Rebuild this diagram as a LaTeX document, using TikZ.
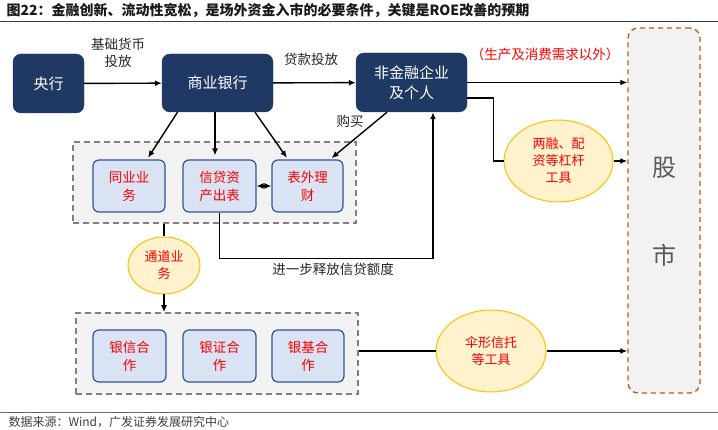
\documentclass[tikz,border=0pt]{standalone}
\usepackage{fontspec}
\setmainfont{Noto Sans CJK SC}
\usepackage{tikz}
\usetikzlibrary{arrows.meta,shapes.geometric}

\definecolor{navy}{RGB}{31,56,100}
\definecolor{paleblue}{RGB}{218,227,243}
\definecolor{edgeblue}{RGB}{47,85,151}
\definecolor{paleyellow}{RGB}{255,242,204}
\definecolor{gold}{RGB}{255,192,0}
\definecolor{panelgray}{RGB}{242,242,242}
\definecolor{rust}{RGB}{197,90,17}

\begin{document}
\begin{tikzpicture}[x=1pt,y=-1pt,
    navybox/.style={draw=navy,fill=navy,rounded corners=8pt,text=white,align=center,
      font=\fontsize{15}{20}\selectfont},
    bluebox/.style={draw=edgeblue,fill=paleblue,line width=1.2pt,rounded corners=6pt,text=red,
      align=center,minimum width=72pt,minimum height=52pt,font=\fontsize{13.5}{18}\selectfont},
    tool/.style={ellipse,draw=gold,fill=paleyellow,line width=1pt,text=red,align=center,
      inner sep=0pt,font=\fontsize{13}{17}\selectfont},
    panel/.style={draw=gray,fill=panelgray,line width=1.6pt,dash pattern=on 6pt off 4pt},
    note/.style={text=black!85,align=center,font=\fontsize{13.5}{17}\selectfont},
    flow/.style={line width=1.4pt,-{Latex[length=7pt,width=6pt]}}]
  \useasboundingbox (0,0) rectangle (718,430);
  % title and source
  \node[anchor=west,text=black!90,font=\fontsize{14}{15}\selectfont\bfseries] (title) at (3,11)
    {图22：金融创新、流动性宽松，是场外资金入市的必要条件，关键是ROE改善的预期};
  \draw[black!75,line width=0.8pt] (0,21) -- (718,21);
  \draw[black!60,line width=0.8pt] (0,412) -- (718,412);
  \node[anchor=west,text=black!75,font=\fontsize{12}{13}\selectfont] (source) at (5,422)
    {数据来源：Wind，广发证券发展研究中心};
  % stock market
  \node[draw=rust,fill=panelgray,line width=1.4pt,dash pattern=on 5pt off 4pt,rounded corners=10pt,
    minimum width=72pt,minimum height=365pt] (stock) at (664,210.5) {};
  \node[text=black!65,font=\fontsize{24}{24}\selectfont] (gu) at (664,168) {股};
  \node[text=black!65,font=\fontsize{24}{24}\selectfont] (shi) at (664,255) {市};
  % panels
  \node[panel,minimum width=283pt,minimum height=81pt] (upper) at (214.5,182.5) {};
  \node[panel,minimum width=282pt,minimum height=81pt] (lower) at (217,353.5) {};
  % main boxes
  \node[navybox,minimum width=71pt,minimum height=59pt] (cbank) at (48.5,83.5) {央行};
  \node[navybox,minimum width=111pt,minimum height=58pt] (bank) at (217.5,83) {商业银行};
  \node[navybox,minimum width=111pt,minimum height=59pt] (firm) at (411.5,82.5) {非金融企业\\及个人};
  % bank products
  \node[bluebox] (interbank) at (129,186) {同业业\\务};
  \node[bluebox,minimum width=73pt] (credit) at (219.5,186) {信贷资\\产出表};
  \node[bluebox,minimum width=71pt] (wealth) at (307.5,186) {表外理\\财};
  \node[bluebox,minimum width=73pt] (trust) at (129.5,356) {银信合\\作};
  \node[bluebox,minimum width=73pt] (broker) at (219.5,356) {银证合\\作};
  \node[bluebox] (fund) at (308,356) {银基合\\作};
  % tools
  \node[tool,minimum width=72pt,minimum height=57pt] (channel) at (164,265.5) {通道业\\务};
  \node[tool,minimum width=109pt,minimum height=82pt] (margin) at (558.5,161) {两融、配\\资等杠杆\\工具};
  \node[tool,minimum width=110pt,minimum height=82pt] (umbrella) at (491,351) {伞形信托\\等工具};
  % connectors
  \draw[flow] (cbank) -- (bank);
  \node[note] (base) at (118,53) {基础货币\\投放};
  \draw[flow] (bank) -- (firm);
  \node[note] (loan) at (311,59) {贷款投放};
  \draw[flow] (firm.east) -- (firm.east -| stock.west);
  \node[text=red,font=\fontsize{13.5}{15}\selectfont] (demand) at (545,54) {（生产及消费需求以外）};
  \draw[line width=1.4pt] ([yshift=-15.5pt]firm.east) -- ++(26,0) |- (margin.west);
  \draw[flow] (margin.east) -- (margin.east -| stock.west);
  \draw[flow,shorten >=2pt] ([xshift=-40pt]bank.south) -- ([xshift=18pt]interbank.north);
  \draw[flow,shorten >=4pt] ([xshift=-2.5pt]bank.south) -- ([xshift=-4.5pt]credit.north);
  \draw[flow,shorten >=2pt] ([xshift=37.5pt]bank.south) -- ([xshift=-19.5pt]wealth.north);
  \draw[flow,shorten >=2pt] ([xshift=-24.5pt]firm.south) -- ([xshift=22.5pt]wealth.north);
  \node[note] (buy) at (350,121) {购买};
  \draw[line width=1.4pt,{Latex[length=7pt,width=6pt]}-{Latex[length=7pt,width=6pt]}] (credit) -- (wealth);
  \draw[flow] (credit.south) -- ++(0,46) -| ([xshift=21.5pt]firm.south);
  \node[note] (release) at (333,269) {进一步释放信贷额度};
  \draw[line width=1.4pt] (upper.south -| channel.north) -- (channel.north);
  \draw[flow] (channel.south) -- (channel.south |- lower.north);
  \draw[line width=1.4pt] (lower.east |- umbrella.west) -- (umbrella.west);
  \draw[flow] (umbrella.east) -- (umbrella.east -| stock.west);
\end{tikzpicture}
\end{document}
